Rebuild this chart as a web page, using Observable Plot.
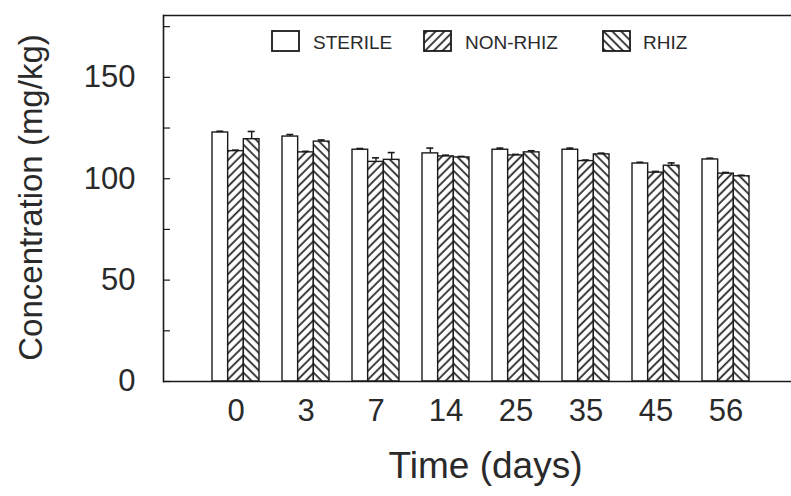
<!DOCTYPE html>
<html>
<head>
<meta charset="utf-8">
<script src="https://cdn.jsdelivr.net/npm/d3@7"></script>
<script src="https://cdn.jsdelivr.net/npm/@observablehq/plot@0.6"></script>
<style>
  html, body { margin: 0; padding: 0; background: #fff; overflow: hidden; }
  #chart svg { display: block; }
</style>
</head>
<body>
<div id="chart"></div>
<script>
// ---- data ----
const times = ["0", "3", "7", "14", "25", "35", "45", "56"];
const seriesNames = ["STERILE", "NON-RHIZ", "RHIZ"];
const sterile    = [122.8, 120.8, 114.3, 112.5, 114.3, 114.3, 107.5, 109.5];
const sterileErr = [0.6,   1.0,   0.6,   2.6,   0.8,   0.8,   0.6,   0.6];
const nonRhiz    = [113.6, 113.0, 108.3, 111.0, 111.5, 108.7, 103.0, 102.5];
const nonRhizErr = [0.5,   0.5,   2.0,   0.6,   0.5,   0.5,   0.6,   0.6];
const rhiz       = [119.5, 118.3, 109.3, 110.5, 113.0, 112.0, 106.4, 101.2];
const rhizErr    = [3.8,   0.8,   3.6,   0.5,   0.8,   0.6,   1.4,   0.5];
const yTicksMinor = [0, 25, 50, 75, 100, 125, 150, 175];
const yTickLabels = [0, 50, 100, 150];

const valuesBySeries = [sterile, nonRhiz, rhiz];
const errBySeries = [sterileErr, nonRhizErr, rhizErr];
const table = [];
seriesNames.forEach((s, k) => {
  times.forEach((t, i) => {
    table.push({time: t, series: s, k, value: valuesBySeries[k][i], err: errBySeries[k][i]});
  });
});

// ---- layout / style ----
const W = 791, H = 496;
const step = 70.3, band = 47;
const pIn = 1 - band / step, pOut = pIn / 2;
const x0 = 234 - step / 2;            // band range start
const w3 = band / 3;                   // width of one sub-bar
const fills = ["white", "url(#hatchFwd)", "url(#hatchBack)"];
const ink = "#1a1a1a";
const txt = "#2a2a2a";
const font = "'Liberation Sans', Arial, Helvetica, sans-serif";

const marks = [];
seriesNames.forEach((s, k) => {
  const sub = table.filter(d => d.series === s);
  marks.push(Plot.barY(sub, {
    x: "time", y: "value", fill: fills[k], stroke: ink, strokeWidth: 1.4,
    insetLeft: k * w3, insetRight: (2 - k) * w3
  }));
  marks.push(Plot.ruleX(sub, {
    x: "time", y1: "value", y2: d => d.value + d.err, stroke: ink, strokeWidth: 1.4,
    dx: (k - 1) * w3
  }));
  marks.push(Plot.tickY(sub, {
    x: "time", y: d => d.value + d.err, stroke: ink, strokeWidth: 1.6,
    insetLeft: k * w3 + w3 / 2 - 3.5, insetRight: (2 - k) * w3 + w3 / 2 - 3.5
  }));
});

const chart = Plot.plot({
  width: W, height: H,
  marginLeft: 163, marginRight: 0, marginTop: 15, marginBottom: H - 381,
  style: {fontFamily: font, color: txt, background: "white", overflow: "visible"},
  x: {domain: times, type: "band", range: [x0, x0 + 8 * step], paddingInner: pIn, paddingOuter: pOut, label: null},
  y: {domain: [0, 180.5], label: null},
  marks: [
    ...marks,
    Plot.ruleY([0], {stroke: ink, strokeWidth: 1.6}),
    Plot.ruleY([180.5], {stroke: ink, strokeWidth: 1.6}),
    Plot.frame({anchor: "left", stroke: ink, strokeWidth: 1.6}),
    Plot.axisY({ticks: yTicksMinor, tickSize: -7, tickFormat: () => "", stroke: ink, strokeWidth: 1.2, label: null}),
    Plot.axisY({ticks: yTickLabels, tickSize: 0, tickPadding: 28, fontSize: 31, label: null}),
    Plot.axisX({tickSize: 0, tickPadding: 17, fontSize: 31, label: null}),
    Plot.text(["Time (days)"], {frameAnchor: "bottom", dx: 8, dy: 96, fontSize: 37, fill: txt}),
    Plot.text(["Concentration (mg/kg)"], {frameAnchor: "left", textAnchor: "middle", lineAnchor: "middle",
      rotate: -90, dx: -132, dy: -1, fontSize: 33, fill: txt})
  ]
});

// hatch patterns
const svg = d3.select(chart);
const defs = svg.insert("defs", ":first-child");
function hatch(id, angle) {
  const p = defs.append("pattern").attr("id", id).attr("patternUnits", "userSpaceOnUse")
    .attr("width", 6.2).attr("height", 6.2).attr("patternTransform", `rotate(${angle})`);
  p.append("rect").attr("width", 6.2).attr("height", 6.2).attr("fill", "white");
  p.append("line").attr("x1", 1.6).attr("x2", 1.6).attr("y1", 0).attr("y2", 6.2)
    .attr("stroke", "#2a2a2a").attr("stroke-width", 1.8);
}
hatch("hatchFwd", 45);
hatch("hatchBack", -45);

// legend inside the plot
const legend = svg.append("g").attr("font-family", font).attr("font-size", 19)
  .attr("fill", txt).attr("text-anchor", "start");
const legendItems = [
  {label: seriesNames[0], fill: fills[0], bx: 272, tx: 313},
  {label: seriesNames[1], fill: fills[1], bx: 424, tx: 465},
  {label: seriesNames[2], fill: fills[2], bx: 603, tx: 643}
];
legendItems.forEach(it => {
  legend.append("rect").attr("x", it.bx).attr("y", 31).attr("width", 27).attr("height", 20)
    .attr("fill", it.fill).attr("stroke", ink).attr("stroke-width", 1.8);
  legend.append("text").attr("x", it.tx).attr("y", 49).attr("text-anchor", "start").text(it.label);
});

document.getElementById("chart").appendChild(chart);
</script>
</body>
</html>
